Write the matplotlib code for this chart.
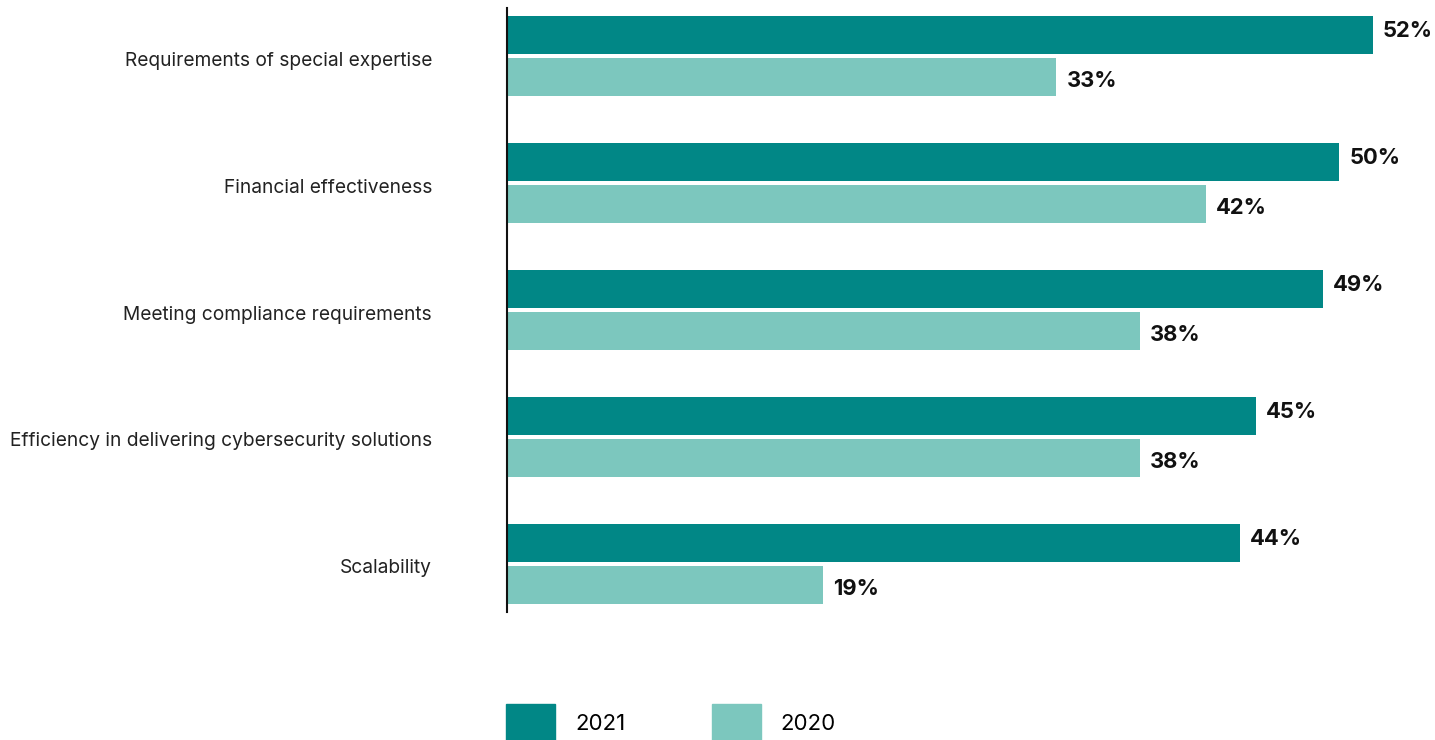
import numpy as np
from matplotlib import pyplot as plt
from matplotlib.patches import Patch

plt.rcParams['font.family'] = ['Inter', 'DejaVu Sans']

categories = ['Requirements of special expertise', 'Financial effectiveness',
              'Meeting compliance requirements',
              'Efficiency in delivering cybersecurity solutions', 'Scalability']
values_2021 = [52, 50, 49, 45, 44]
values_2020 = [33, 42, 38, 38, 19]
series_names = ['2021', '2020']
colors = ['#018786', '#7cc7be']

fig = plt.figure()
fig.set_size_inches(14.35, 7.4)
ax = fig.add_axes([507/1435, 1-612/740, 928/1435, 604/740])

y = np.arange(len(categories))
h = 0.3
off = 0.165
ax.barh(y - off, values_2021, height=h, color=colors[0])
ax.barh(y + off, values_2020, height=h, color=colors[1])

for yi, v in zip(y, values_2021):
    ax.text(v + 0.6, yi - off - 0.03, f'{v}%', va='center', ha='left',
            fontsize=15.8, fontweight='bold', color='#111111')
for yi, v in zip(y, values_2020):
    ax.text(v + 0.6, yi + off + 0.03, f'{v}%', va='center', ha='left',
            fontsize=15.8, fontweight='bold', color='#111111')

ax.set_xlim(0, 928/16.65)
ax.set_ylim(4.38, -0.38)
ax.set_yticks(y + 0.02)
ax.set_yticklabels(categories, fontsize=13.8, color='#222222')
ax.tick_params(axis='y', length=0, pad=54)
ax.set_xticks([])
for s in ['top', 'right', 'bottom']:
    ax.spines[s].set_visible(False)
ax.spines['left'].set_linewidth(1.5)
ax.spines['left'].set_color('#111111')

handles = [Patch(color=c) for c in colors]
fig.legend(handles, series_names, loc='lower left', bbox_to_anchor=(506/1435, -0.002),
           ncol=2, frameon=False, fontsize=16, handlelength=2.2, handleheight=2.2,
           handletextpad=0.9, columnspacing=3.9, borderpad=0, borderaxespad=0)

fig.savefig('out.png', dpi=100)
